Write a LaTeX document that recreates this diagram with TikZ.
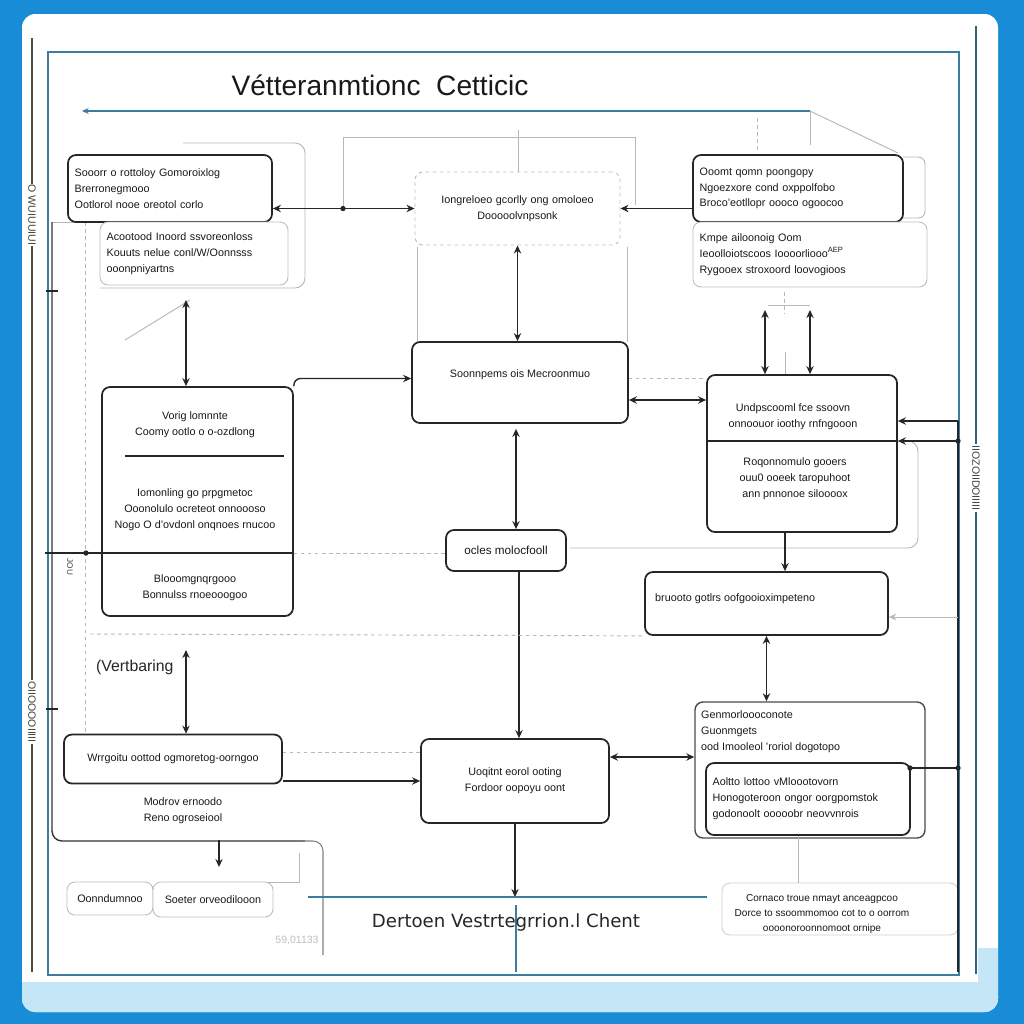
\documentclass[tikz,border=0pt]{standalone}
\usepackage{fontspec}
\setmainfont{Liberation Sans}
\newfontfamily\labelfont{DejaVu Sans}
\usetikzlibrary{arrows.meta,calc}
\definecolor{cardblue}{RGB}{24,140,214}
\definecolor{bandblue}{RGB}{196,230,247}
\definecolor{steel}{RGB}{62,124,158}

\begin{document}
\begin{tikzpicture}[x=0.3mm,y=-0.3mm]
    % Define styles
    \tikzset{
        block/.style={
            draw=black!85,
            line width=1.5pt,
            rounded corners=2.4mm,
            fill=white,
            inner sep=2mm,
            font=\fontsize{9.2}{13.5}\selectfont,
            text=black!90
        },
        ghost/.style={
            draw=black!25,
            line width=0.8pt,
            rounded corners=2.4mm,
            fill=white,
            inner sep=2mm,
            font=\fontsize{9.2}{13.5}\selectfont,
            text=black!90
        },
        boxtext/.style={
            font=\fontsize{9.2}{13.5}\selectfont,
            text=black!90,
            align=center,
            inner sep=0pt
        },
        link/.style={
            draw=black!85,
            line width=1.2pt,
            >={Stealth[length=2.4mm,width=2.2mm]}
        },
        faint/.style={
            draw=black!28,
            line width=0.8pt,
            >={Stealth[length=2.2mm,width=2mm]}
        },
        frameline/.style={
            draw=steel,
            line width=1.2pt
        },
        sidetext/.style={
            font=\fontsize{9}{10}\selectfont,
            text=black!75,
            fill=white,
            inner sep=1pt,
            rotate=-90
        }
    }
    \useasboundingbox (0,0) rectangle (1024,1024);

    % Card and frame
    \fill[cardblue] (0,0) rectangle (1024,1024);
    \fill[white, rounded corners=4mm] (22,14) rectangle (998,1012);
    \fill[bandblue, rounded corners=4mm] (22,982) rectangle (998,1012);
    \fill[bandblue] (22,982) rectangle (998,995);
    \fill[bandblue] (978,948) rectangle (998,990);
    \draw[black!70, line width=0.9pt] (32,38) -- (32,972);
    \draw[steel!80!black, line width=0.9pt] (976,26) -- (976,974);
    \draw[frameline] (48,52) rectangle (959,975);
    \draw[frameline, {Stealth[length=2mm,width=1.8mm]}-] (82,111) -- (810,111);

    % Title
    \node[font=\fontsize{24}{28}\selectfont, text=black!90] (title) at (380,85) {Vétteranmtionc\ \ Cetticic};

    % Side labels
    \node[sidetext] (sideA) at (32,215) {O WUIUUIUI};
    \node[sidetext] (sideB) at (32,712) {OIIOOOOIIIII};
    \node[sidetext] (sideC) at (976,478) {IIOZOIIDOIIIII};
    \node[sidetext, fill=none, font=\fontsize{7}{8}\selectfont] (tagJ) at (70,567) {JOU};

    % Faint outlines
    \draw[faint, rounded corners=3mm] (183,143) -| (305,288) -- (100,288);
    \draw[faint] (52,222) -- (85,222);
    \draw[faint, dashed] (85,222) -- (85,735);
    \draw[faint] (125,340) -- (190,300);
    \draw[faint] (343,208.5) -- (343,137) -- (635,137) -- (635,205);
    \draw[faint] (518,130) -- (518,172);
    \draw[faint] (417,247) -- (417,342);
    \draw[faint] (627,247) -- (627,342);
    \draw[faint] (810,111) -- (898,153);
    \draw[faint] (810,111) -- (810,145);
    \draw[faint, dashed] (757,118) -- (757,150);
    \draw[faint, rounded corners=2mm] (903,157) -- (925,157) -- (925,218) -- (903,218);
    \draw[faint, dashed] (784,292) -- (784,314);
    \draw[faint] (768,305) -- (810,305);
    \draw[faint] (785,352) -- (785,375);
    \draw[faint, rounded corners=3mm] (897,441) -| (918,548) -- (570,548);
    \draw[faint] (214,882) -- (299,882) -- (299,853);

    % Top row
    \node[block, minimum width=61.2mm, minimum height=20.1mm, text width=57.2mm, align=left] (srcbox) at (170,188.5)
        {Sooorr o rottoloy Gomoroixlog\\Brerronegmooo\\Ootlorol nooe oreotol corlo};
    \node[ghost, minimum width=56.4mm, minimum height=18.9mm, text width=52.4mm, align=left] (inbox) at (194,253.5)
        {Acootood Inoord ssvoreonloss\\Kouuts nelue conl/W/Oonnsss\\ooonpniyartns};
    \node[ghost, dashed, minimum width=61.5mm, minimum height=21.9mm, text width=57.5mm, align=center] (gendoc) at (517.5,208.5)
        {Iongreloeo gcorlly ong omoloeo\\Dooooolvnpsonk};
    \node[block, minimum width=63mm, minimum height=20.1mm, text width=59mm, align=left] (outbox) at (798,188.5)
        {Ooomt qomn poongopy\\Ngoezxore cond oxppolfobo\\Broco'eotllopr oooco ogoocoo};
    \node[ghost, minimum width=70.2mm, minimum height=19.5mm, text width=66.2mm, align=left] (notebox) at (810,254.5)
        {Kmpe ailoonoig Oom\\Ieoolloiotscoos Ioooorliooo\textsuperscript{AEP}\\Rygooex stroxoord loovogioos};

    % Middle row
    \node[block, minimum width=64.8mm, minimum height=24.3mm] (compare) at (520,382.5) {};
    \node[boxtext] (comparetxt) at (520,375) {Soonnpems ois Mecroonmuo};
    \node[block, minimum width=57.3mm, minimum height=68.7mm] (voting) at (197.5,501.5) {};
    \node[boxtext] (voteA) at (195,425) {Vorig lomnnte\\Coomy ootlo o o-ozdlong};
    \node[boxtext] (voteB) at (195,510) {Iomonling go prpgmetoc\\Ooonolulo ocreteot onnoooso\\Nogo O d'ovdonl onqnoes rnucoo};
    \node[boxtext] (voteC) at (195,588) {Blooomgnqrgooo\\Bonnulss rnoeooogoo};
    \node[block, minimum width=36mm, minimum height=12.3mm, font=\fontsize{10}{12}\selectfont] (proto) at (506,550.5) {ocles molocfooll};
    \node[block, minimum width=57mm, minimum height=47.1mm] (update) at (802,453.5) {};
    \node[boxtext] (updA) at (793,417) {Undpscooml fce ssoovn\\onnoouor ioothy rnfngooon};
    \node[boxtext] (updB) at (795,479) {Roqonnomulo gooers\\ouu0 ooeek taropuhoot\\ann pnnonoe siloooox};
    \node[block, minimum width=72.9mm, minimum height=18.9mm] (buffer) at (766.5,603.5) {};
    \node[boxtext, anchor=west] (buffertxt) at (655,599) {bruooto gotlrs oofgooioximpeteno};

    % Bottom row
    \node[block, draw=black!70, line width=1.2pt, minimum width=69mm, minimum height=40.8mm] (genmeta) at (810,770) {};
    \node[boxtext, anchor=west, align=left] (genmetatxt) at (701,732) {Genmorloooconote\\Guonmgets\\ood Imooleol 'roriol dogotopo};
    \node[block, minimum width=61.2mm, minimum height=21.6mm, text width=57.2mm, align=left] (alert) at (808,799)
        {Aoltto lottoo vMloootovorn\\Honogoteroon ongor oorgpomstok\\godonoolt ooooobr neovvnrois};
    \node[block, minimum width=65.4mm, minimum height=14.7mm] (merge) at (173,759) {Wrrgoitu oottod ogmoretog-oorngoo};
    \node[boxtext] (mergenote) at (183,811) {Modrov ernoodo\\Reno ogroseiool};
    \node[font=\fontsize{13.5}{16}\selectfont, text=black!85, anchor=west] (vertlabel) at (92,667) {(Vertbaring};
    \node[block, minimum width=56.4mm, minimum height=25.2mm, align=center] (output) at (515,781)
        {Uoqitnt eorol ooting\\Fordoor oopoyu oont};
    \node[ghost, minimum width=25.8mm, minimum height=9.9mm] (condA) at (110,898.5) {Oonndumnoo};
    \node[ghost, minimum width=36mm, minimum height=10.5mm] (condB) at (213,899.5) {Soeter orveodilooon};
    \node[ghost, draw=black!18, minimum width=70.8mm, minimum height=15.6mm] (summary) at (840,909) {};
    \node[boxtext, font=\fontsize{8.6}{12.5}\selectfont] (summarytxt) at (822,914)
        {Cornaco troue nmayt anceagpcoo\\Dorce to ssoommomoo cot to o oorrom\\oooonoroonnomoot ornipe};

    % Rails and free ends
    \coordinate (rail421) at (958,421);
    \coordinate (rail441) at (958,441);
    \coordinate (rail617) at (958,617);
    \coordinate (rail768) at (958,768);
    \coordinate (voteTop) at (186,300);
    \coordinate (mergeTop) at (186,650);
    \coordinate (updTopA) at (765,310);
    \coordinate (updTopB) at (810,310);
    \coordinate (leftTap) at (45,553);
    \coordinate (baseHub) at (514,897);
    \coordinate (dropA) at (219,840);
    \coordinate (protoIn) at ($(proto.north)+(10,0)$);
    \coordinate (protoOut) at ($(proto.south)+(13,0)$);
    \coordinate (updOut) at ($(update.south)+(-17,0)$);
    \coordinate (alertOut) at ($(alert.south)+(-10,0)$);

    \draw[link] (rail421) -- (958,972);
    \draw[black!80, line width=1.2pt, rounded corners=3mm] (52,222) -- (52,841) -- (305,841);
    \draw[black!50, line width=0.9pt, rounded corners=3mm] (300,841) -- (323,841) -- (323,955);
    \draw[link] (46,291) -- (58,291);
    \draw[link] (46,709) -- (58,709);

    % Connect boxes
    \draw[link, <->] (gendoc.west -| srcbox.east) -- (gendoc.west);
    \draw[link, ->] (gendoc.east -| outbox.west) -- (gendoc.east);
    \draw[link, <->] (gendoc.south) -- (gendoc.south |- compare.north);
    \draw[link, <->] (voteTop) -- (voteTop |- voting.north);
    \draw[link, ->, rounded corners=2mm] (voting.north east) |- ($(compare.west)+(0,-4)$);
    \draw[link, <->] ($(compare.east)+(0,17.5)$) -- ($(compare.east -| update.west)+(0,17.5)$);
    \draw[faint, dashed] ($(compare.east)+(0,-4)$) -- ($(compare.east -| update.west)+(0,-4)$);
    \draw[link, <->] (updTopA) -- (updTopA |- update.north);
    \draw[link, <->] (updTopB) -- (updTopB |- update.north);
    \draw[link, ->] (rail421) -- (rail421 -| update.east);
    \draw[link, ->] (rail441) -- (rail441 -| update.east);
    \draw[link] (rail441 -| update.west) -- (rail441 -| update.east);
    \draw[link, <->] (protoIn |- compare.south) ++(0,5) -- (protoIn);
    \draw[link, ->] (protoOut) -- (protoOut |- output.north);
    \draw[link] (leftTap) -- (leftTap -| voting.east);
    \draw[link] (125,456) -- (284,456);
    \draw[faint, dashed] (leftTap -| voting.east) -- (leftTap -| proto.west);
    \draw[faint, dashed] (90,634) -- (buffer.south west);
    \draw[link, ->] (updOut) -- (updOut |- buffer.north);
    \draw[faint, ->] (rail617) -- (rail617 -| buffer.east);
    \draw[link, <->] (buffer.south) -- (buffer.south |- genmeta.north);
    \draw[link] (rail768 -| alert.east) -- (rail768);
    \draw[link, <->] ($(output.east)+(0,-24)$) -- ($(output.east -| genmeta.west)+(0,-24)$);
    \draw[link, ->] (output.west -| merge.east) -- (output.west);
    \draw[faint, dashed] ($(output.west -| merge.east)+(0,-29)$) -- ($(output.west)+(0,-29)$);
    \draw[link, <->] (mergeTop) -- (mergeTop |- merge.north);
    \draw[link, ->] (output.south) -- (output.south |- baseHub);
    \draw[faint] (alertOut) -- (alertOut |- summary.north);
    \draw[link, ->] (dropA) -- ++(0,27);

    % Junction dots
    \foreach \p in {(343,208.5), (86,553), (958,441), (958,768), (910,768)}
        \fill[black!85] \p circle[radius=0.8mm];

    % Footer
    \draw[steel, line width=1.1pt] (308,897) -- (707,897);
    \draw[steel, line width=1.1pt] (516,905) -- (516,972);
    \node[font=\labelfont\fontsize{15.5}{18}\selectfont, text=black!85] (footer) at (506,922) {Dertoen Vestrtegrrion.l Chent};
    \node[font=\fontsize{9}{10}\selectfont, text=black!25] (stamp) at (297,940) {59,01133};

\end{tikzpicture}
\end{document}
